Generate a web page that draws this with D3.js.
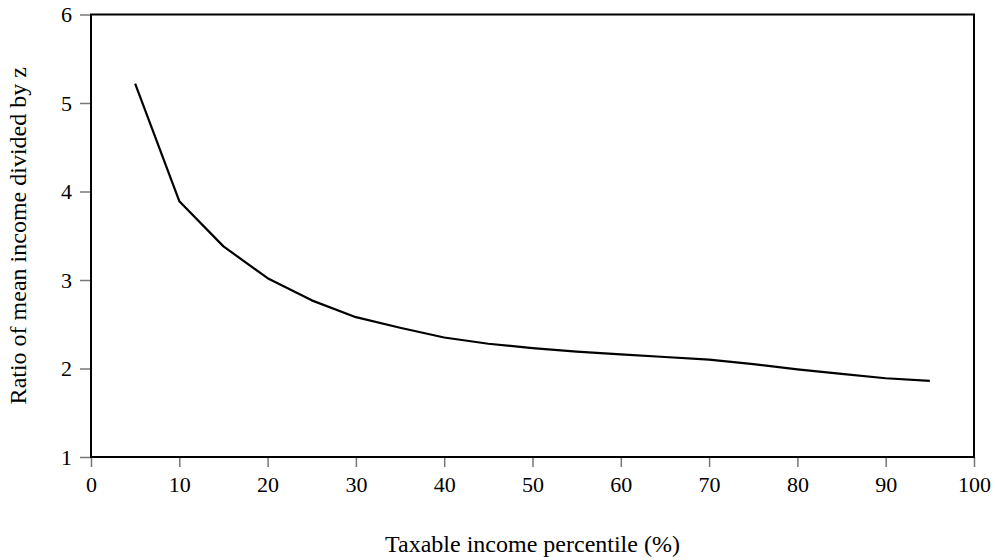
<!DOCTYPE html>
<html>
<head>
<meta charset="utf-8">
<script src="https://cdn.jsdelivr.net/npm/d3@7"></script>
<style>
  body { margin: 0; background: #fff; }
  svg { display: block; }
  text { font-family: "Liberation Serif", "Times New Roman", serif; fill: #000; }
</style>
</head>
<body>
<svg id="chart" width="995" height="560"></svg>
<script>
const percentiles = [5, 10, 15, 20, 25, 30, 35, 40, 45, 50, 55, 60, 65, 70, 75, 80, 85, 90, 95];
const ratioValues = [5.22, 3.89, 3.38, 3.02, 2.77, 2.58, 2.46, 2.35, 2.28, 2.23, 2.19, 2.16, 2.13, 2.10, 2.05, 1.99, 1.94, 1.89, 1.86];
const xTicks = [0, 10, 20, 30, 40, 50, 60, 70, 80, 90, 100];
const yTicks = [1, 2, 3, 4, 5, 6];
const xLabel = "Taxable income percentile (%)";
const yLabel = "Ratio of mean income divided by z";

const svg = d3.select("#chart");
const pLeft = 91, pRight = 974, pTop = 14.5, pBottom = 457;

const x = d3.scaleLinear().domain([0, 100]).range([pLeft, pRight]);
const y = d3.scaleLinear().domain([1, 6]).range([pBottom, pTop]);

// x axis
const xAxis = svg.append("g").attr("transform", `translate(0,${pBottom})`)
  .call(d3.axisBottom(x).tickValues(xTicks).tickFormat(d3.format("d"))
    .tickSize(10).tickPadding(9).tickSizeOuter(0));
xAxis.attr("font-family", null).attr("font-size", null);
xAxis.select(".domain").remove();
xAxis.selectAll(".tick line").attr("stroke", "#777").attr("stroke-width", 1.5);
xAxis.selectAll(".tick text").style("font-size", "22px").style("font-family", "'Liberation Serif', serif");

// y axis
const yAxis = svg.append("g").attr("transform", `translate(${pLeft},0)`)
  .call(d3.axisLeft(y).tickValues(yTicks).tickFormat(d3.format("d"))
    .tickSize(11).tickPadding(8).tickSizeOuter(0));
yAxis.attr("font-family", null).attr("font-size", null);
yAxis.select(".domain").remove();
yAxis.selectAll(".tick line").attr("stroke", "#777").attr("stroke-width", 1.5);
yAxis.selectAll(".tick text").style("font-size", "22px").style("font-family", "'Liberation Serif', serif");

// frame
svg.append("rect")
  .attr("x", pLeft).attr("y", pTop)
  .attr("width", pRight - pLeft).attr("height", pBottom - pTop)
  .attr("fill", "none").attr("stroke", "#000").attr("stroke-width", 2);

// line
const line = d3.line().x((d, i) => x(percentiles[i])).y(d => y(d));
svg.append("path").datum(ratioValues)
  .attr("d", line)
  .attr("fill", "none").attr("stroke", "#000").attr("stroke-width", 2.2)
  .attr("stroke-linejoin", "round");

// labels
svg.append("text")
  .attr("x", (pLeft + pRight) / 2).attr("y", 552)
  .attr("text-anchor", "middle").style("font-size", "24px")
  .text(xLabel);

svg.append("text")
  .attr("transform", `translate(26,${(pTop + pBottom) / 2}) rotate(-90)`)
  .attr("text-anchor", "middle").style("font-size", "24px")
  .text(yLabel);
</script>
</body>
</html>
